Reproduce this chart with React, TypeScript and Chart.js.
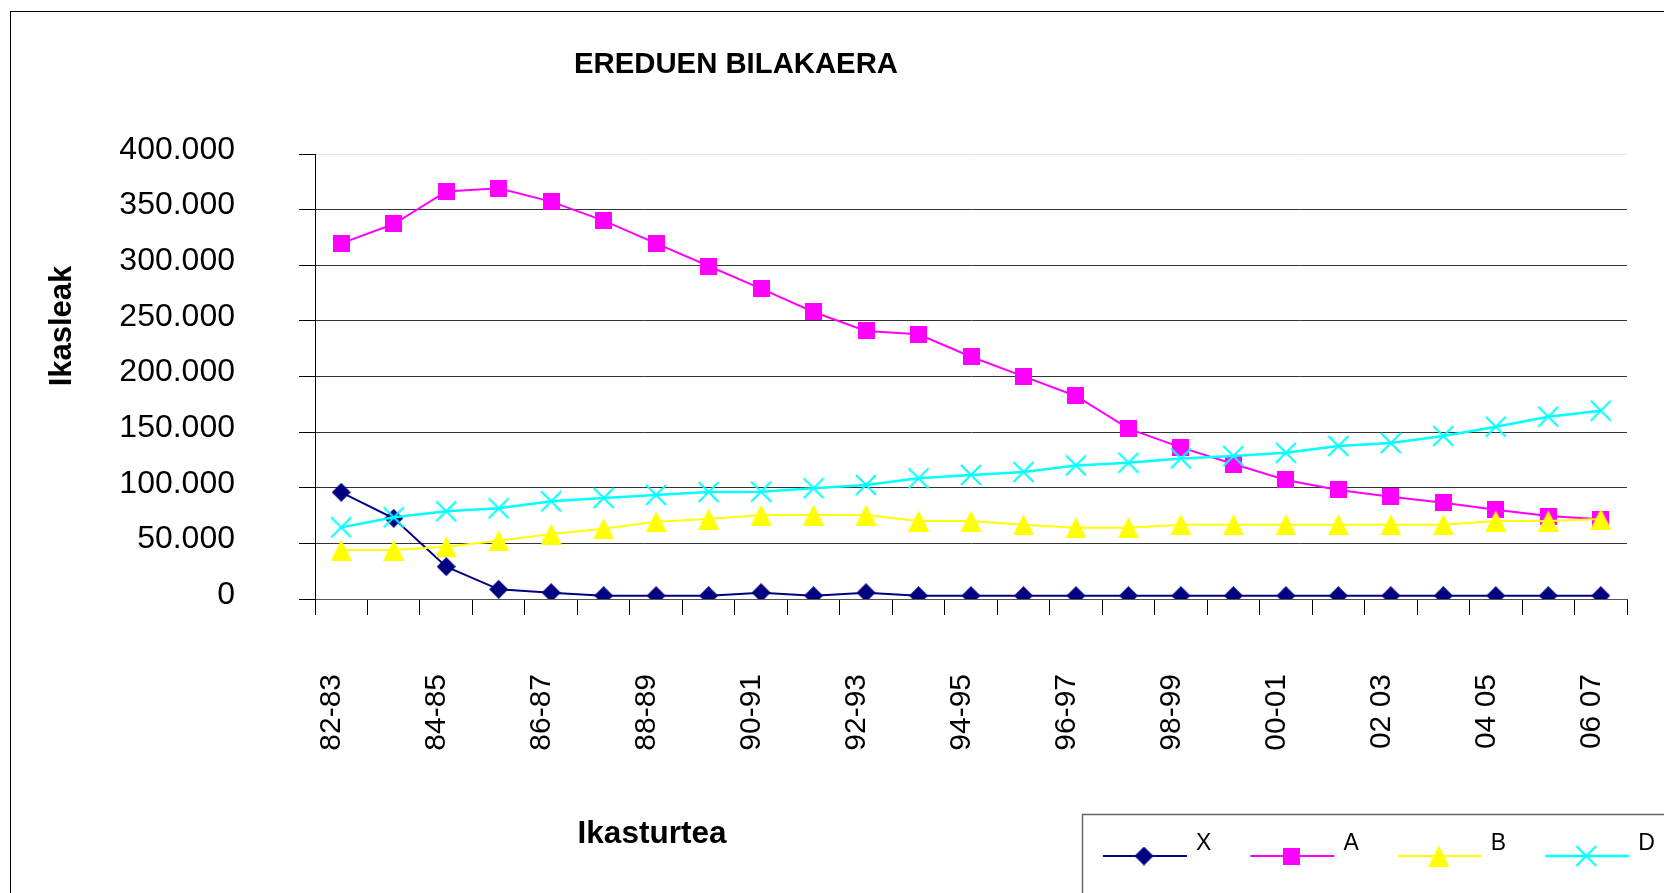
import React, { useEffect, useRef } from "react";
import { Chart, registerables } from "chart.js";

Chart.register(...registerables);

const categories = [
  "82-83", "83-84", "84-85", "85-86", "86-87", "87-88", "88-89", "89-90",
  "90-91", "91-92", "92-93", "93-94", "94-95", "95-96", "96-97", "97-98",
  "98-99", "99-00", "00-01", "01-02", "02 03", "03 04", "04 05", "05 06", "06 07",
];

const seriesX = [
  95900, 72500, 29100, 8700, 5700, 3000, 3000, 3000, 5700, 3000, 5700, 3000, 3000,
  3000, 3000, 3000, 3000, 3000, 3000, 3000, 3000, 3000, 3000, 3000, 3000,
];
const seriesA = [
  319700, 337100, 366400, 369100, 357200, 340100, 319700, 299300, 279000, 258000,
  240900, 237900, 217800, 200100, 182500, 153100, 136300, 121300, 107000, 98000,
  92000, 86600, 80300, 74600, 71600,
];
const seriesB = [
  44000, 44000, 47000, 52400, 58400, 63200, 69500, 71900, 75500, 75500, 75500,
  70100, 70100, 66800, 64100, 64100, 66800, 66800, 66800, 66800, 66800, 66800,
  70100, 70100, 71900,
];
const seriesD = [
  64400, 73400, 78800, 81500, 87800, 90800, 93500, 96200, 96500, 99500, 102500,
  108500, 111500, 114200, 120100, 122500, 126400, 128500, 131500, 137500, 140200,
  146500, 154900, 163900, 169300,
];

const seriesNames = ["X", "A", "B", "D"];
const seriesColors = ["#000080", "#FF00FF", "#FFFF00", "#00FFFF"];

const chartTitle = "EREDUEN BILAKAERA";
const yTitle = "Ikasleak";
const xTitle = "Ikasturtea";

const FONT = "'Liberation Sans', Arial, Helvetica, sans-serif";

function makeMarker(kind: string, color: string): HTMLCanvasElement {
  const c = document.createElement("canvas");
  const ctx = c.getContext("2d") as CanvasRenderingContext2D;
  if (kind === "diamond") {
    c.width = 19; c.height = 19;
    ctx.fillStyle = color;
    ctx.beginPath();
    ctx.moveTo(9.5, 0); ctx.lineTo(19, 9.5); ctx.lineTo(9.5, 19); ctx.lineTo(0, 9.5);
    ctx.closePath(); ctx.fill();
  } else if (kind === "square") {
    c.width = 17; c.height = 17;
    ctx.fillStyle = color;
    ctx.fillRect(0, 0, 17, 17);
  } else if (kind === "triangle") {
    c.width = 21; c.height = 21;
    ctx.fillStyle = color;
    ctx.beginPath();
    ctx.moveTo(10.5, 0); ctx.lineTo(21, 21); ctx.lineTo(0, 21);
    ctx.closePath(); ctx.fill();
  } else {
    c.width = 22; c.height = 22;
    ctx.strokeStyle = color;
    ctx.lineWidth = 2;
    ctx.beginPath();
    ctx.moveTo(1, 1); ctx.lineTo(21, 21);
    ctx.moveTo(21, 1); ctx.lineTo(1, 21);
    ctx.stroke();
  }
  return c;
}

function fmt(v: number): string {
  return Math.round(v).toString().replace(/\B(?=(\d{3})+(?!\d))/g, ".");
}

const decorPlugin = {
  id: "decor",
  afterDraw(chart: any) {
    const ctx: CanvasRenderingContext2D = chart.ctx;
    ctx.save();
    // outer frame
    ctx.strokeStyle = "#000";
    ctx.lineWidth = 1;
    ctx.strokeRect(10.5, 11.5, 3000, 3000);

    // chart title
    ctx.fillStyle = "#000";
    ctx.font = `bold 29.3px ${FONT}`;
    ctx.textAlign = "center";
    ctx.textBaseline = "alphabetic";
    ctx.fillText(chartTitle, 736, 72.5);

    // x axis title
    ctx.font = `bold 31.5px ${FONT}`;
    ctx.fillText(xTitle, 652, 842.5);

    // y axis title
    ctx.save();
    ctx.translate(70.5, 326);
    ctx.rotate(-Math.PI / 2);
    ctx.font = `bold 31px ${FONT}`;
    ctx.fillText(yTitle, 0, 0);
    ctx.restore();

    // legend box
    ctx.strokeStyle = "#666";
    ctx.lineWidth = 1.5;
    ctx.strokeRect(1082.5, 814.5, 3000, 3000);

    // legend items
    const ds = chart.data.datasets;
    ctx.font = `23px ${FONT}`;
    ctx.textAlign = "left";
    ctx.textBaseline = "alphabetic";
    for (let i = 0; i < ds.length; i++) {
      const x0 = 1103 + i * 147.4;
      const yLine = 856;
      ctx.strokeStyle = ds[i].borderColor;
      ctx.lineWidth = ds[i].borderWidth;
      ctx.beginPath();
      ctx.moveTo(x0, yLine);
      ctx.lineTo(x0 + 84, yLine);
      ctx.stroke();
      const m: HTMLCanvasElement = ds[i].pointStyle;
      ctx.drawImage(m, x0 + 41 - m.width / 2, yLine - m.height / 2);
      ctx.fillStyle = "#000";
      ctx.fillText(ds[i].label, x0 + 93, 850);
    }
    ctx.restore();
  },
};

export default function App() {
  const ref = useRef<HTMLCanvasElement | null>(null);

  useEffect(() => {
    if (!ref.current) return;
    const kinds = ["diamond", "square", "triangle", "cross"];
    const values = [seriesX, seriesA, seriesB, seriesD];
    const widths = [2, 2, 2, 2.5];
    const datasets = values.map((vals, i) => {
      const marker = makeMarker(kinds[i], seriesColors[i]);
      return {
        label: seriesNames[i],
        data: vals,
        borderColor: seriesColors[i],
        backgroundColor: seriesColors[i],
        borderWidth: widths[i],
        pointStyle: marker,
        pointRadius: 10,
        pointHoverRadius: 10,
        tension: 0,
        fill: false,
        order: 3 - i,
      };
    });

    const chart = new Chart(ref.current, {
      type: "line",
      data: { labels: categories, datasets },
      options: {
        responsive: false,
        animation: false,
        devicePixelRatio: 1,
        layout: { padding: { left: 0, top: 154, right: 37, bottom: 0 } },
        plugins: {
          legend: { display: false },
          title: { display: false },
          tooltip: { enabled: false },
        },
        events: [],
        scales: {
          x: {
            type: "category",
            offset: true,
            grid: {
              display: true,
              drawOnChartArea: false,
              drawTicks: true,
              tickLength: 16,
              color: "#000",
              offset: true,
            },
            border: { display: true, color: "#555", width: 1 },
            ticks: {
              autoSkip: false,
              maxRotation: 90,
              minRotation: 90,
              padding: 59,
              labelOffset: -9.5,
              color: "#000",
              font: { family: FONT, size: 30 },
              callback: (_v: any, i: number) => (i % 2 === 0 ? categories[i] : ""),
            },
            afterFit: (s: any) => {
              s.height = 294;
              s.paddingLeft = 0;
              s.paddingRight = 0;
            },
          },
          y: {
            min: 0,
            max: 400000,
            ticks: {
              stepSize: 50000,
              padding: 64,
              labelOffset: -4,
              color: "#000",
              font: { family: FONT, size: 32 },
              callback: (v: any) => fmt(Number(v)),
            },
            grid: {
              color: (c: any) => (c.tick && c.tick.value === 400000 ? "#e6e6e6" : "#333"),
              tickColor: "#000",
              tickLength: 16,
              lineWidth: 1,
            },
            border: { display: true, color: "#000", width: 1 },
            afterFit: (s: any) => {
              s.width = 315;
            },
          },
        },
      } as any,
      plugins: [decorPlugin],
    });
    return () => chart.destroy();
  }, []);

  return (
    <div
      style={{
        position: "fixed",
        left: 0,
        top: 0,
        width: 1664,
        height: 893,
        overflow: "hidden",
        background: "#fff",
      }}
    >
      <canvas ref={ref} width={1664} height={893} style={{ display: "block" }} />
    </div>
  );
}
